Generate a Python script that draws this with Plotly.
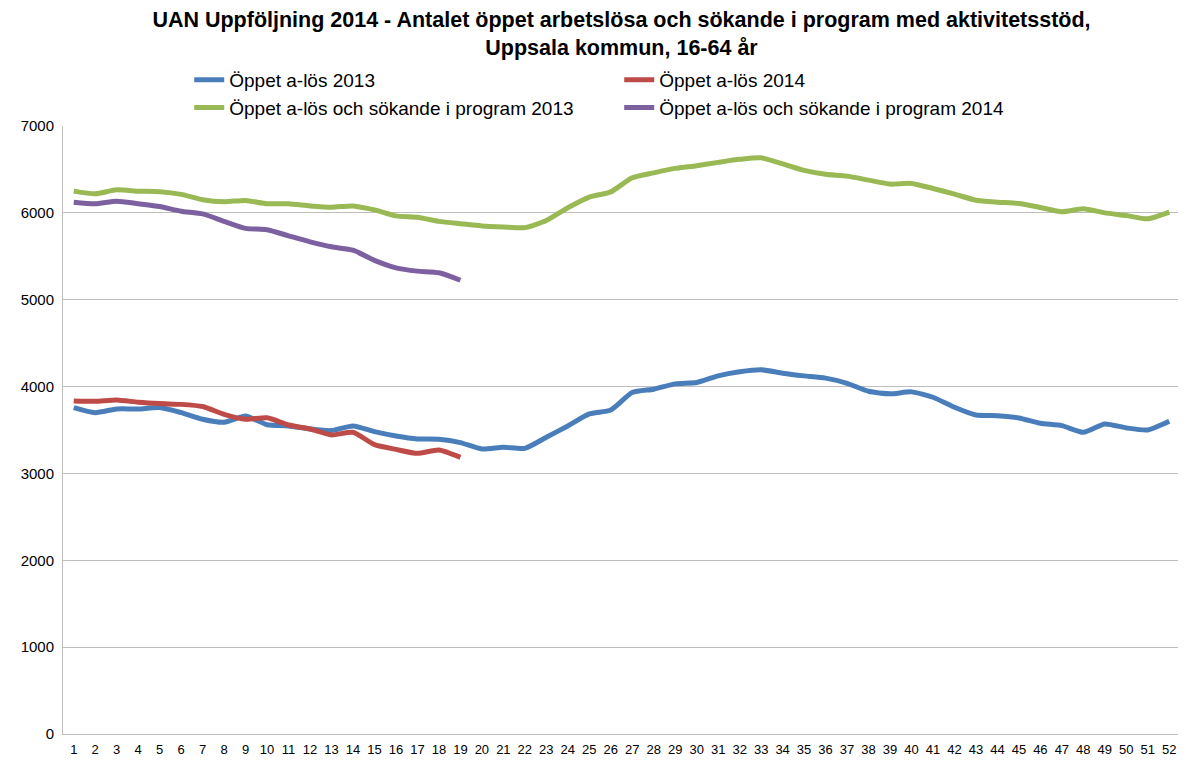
import plotly.graph_objects as go

weeks = list(range(1, 53))

open_2013 = [3758, 3700, 3742, 3742, 3758, 3700, 3624, 3589, 3662, 3560,
             3547, 3512, 3493, 3547, 3481, 3431, 3397, 3393, 3355, 3281,
             3301, 3289, 3416, 3547, 3685, 3731, 3931, 3970, 4031, 4046,
             4123, 4170, 4193, 4154, 4123, 4097, 4038, 3946, 3916, 3939,
             3877, 3762, 3673, 3665, 3639, 3577, 3550, 3473, 3570, 3524,
             3501, 3600]

open_2014 = [3835, 3830, 3846, 3820, 3804, 3795, 3770, 3681, 3624, 3640,
             3558, 3512, 3443, 3474, 3331, 3277, 3231, 3270, 3185]

prog_2013 = [6250, 6220, 6265, 6250, 6243, 6213, 6151, 6128, 6143, 6105,
             6105, 6080, 6065, 6080, 6034, 5965, 5949, 5902, 5875, 5850,
             5838, 5830, 5912, 6058, 6181, 6242, 6404, 6461, 6512, 6543,
             6581, 6616, 6634, 6565, 6489, 6445, 6423, 6377, 6331, 6339,
             6281, 6216, 6146, 6123, 6108, 6062, 6012, 6046, 6000, 5969,
             5931, 6008]

prog_2014 = [6123, 6105, 6135, 6105, 6073, 6019, 5988, 5902, 5821, 5806,
             5736, 5666, 5609, 5570, 5453, 5367, 5329, 5310, 5224]

names = ["Öppet a-lös 2013", "Öppet a-lös 2014",
         "Öppet a-lös och sökande i program 2013",
         "Öppet a-lös och sökande i program 2014"]
colors = ["#4A7EBB", "#BE4B48", "#98B954", "#7D60A0"]
series = [open_2013, open_2014, prog_2013, prog_2014]

fig = go.Figure()
for name, col, vals in zip(names, colors, series):
    fig.add_trace(go.Scatter(
        x=weeks[:len(vals)], y=vals, name=name, mode="lines",
        line=dict(color=col, width=5, shape="spline", smoothing=0.6),
    ))

FONT = "Liberation Sans, Arial, sans-serif"

fig.update_layout(
    width=1178, height=751,
    paper_bgcolor="white", plot_bgcolor="white",
    margin=dict(l=55, r=6, t=118, b=25, autoexpand=False),
    font=dict(family=FONT, color="#000000"),
    title=dict(
        text="<b>UAN Uppföljning 2014 - Antalet öppet arbetslösa och sökande i program med aktivitetsstöd,<br>Uppsala kommun, 16-64 år</b>",
        x=0.5, xanchor="center", xref="paper", y=0.9747, yanchor="middle",
        font=dict(size=21.5, family=FONT),
    ),
    legend=dict(
        orientation="h", x=0.113, xanchor="left", y=1.107, yanchor="top",
        entrywidth=385, entrywidthmode="pixels",
        font=dict(size=19), tracegroupgap=0, itemwidth=30,
    ),
    showlegend=True,
)

fig.update_xaxes(
    type="linear", range=[0.5, 52.5], tickmode="array", tickvals=weeks,
    ticktext=[str(w) for w in weeks], showgrid=False, zeroline=False,
    showline=True, linecolor="#BFBFBF", linewidth=1, ticks="",
    tickfont=dict(size=13), tickangle=0, automargin=False,
    ticklabeloverflow="allow", ticklabelstandoff=3,
)
fig.update_yaxes(
    range=[0, 7000], tickmode="array", tickvals=[0, 1000, 2000, 3000, 4000, 5000, 6000, 7000],
    showgrid=True, gridcolor="#BEBEBE", gridwidth=1, zeroline=False,
    showline=True, linecolor="#BFBFBF", linewidth=1, ticks="",
    tickfont=dict(size=15), ticklabelstandoff=5, automargin=False,
)

fig.write_html("out.html")
